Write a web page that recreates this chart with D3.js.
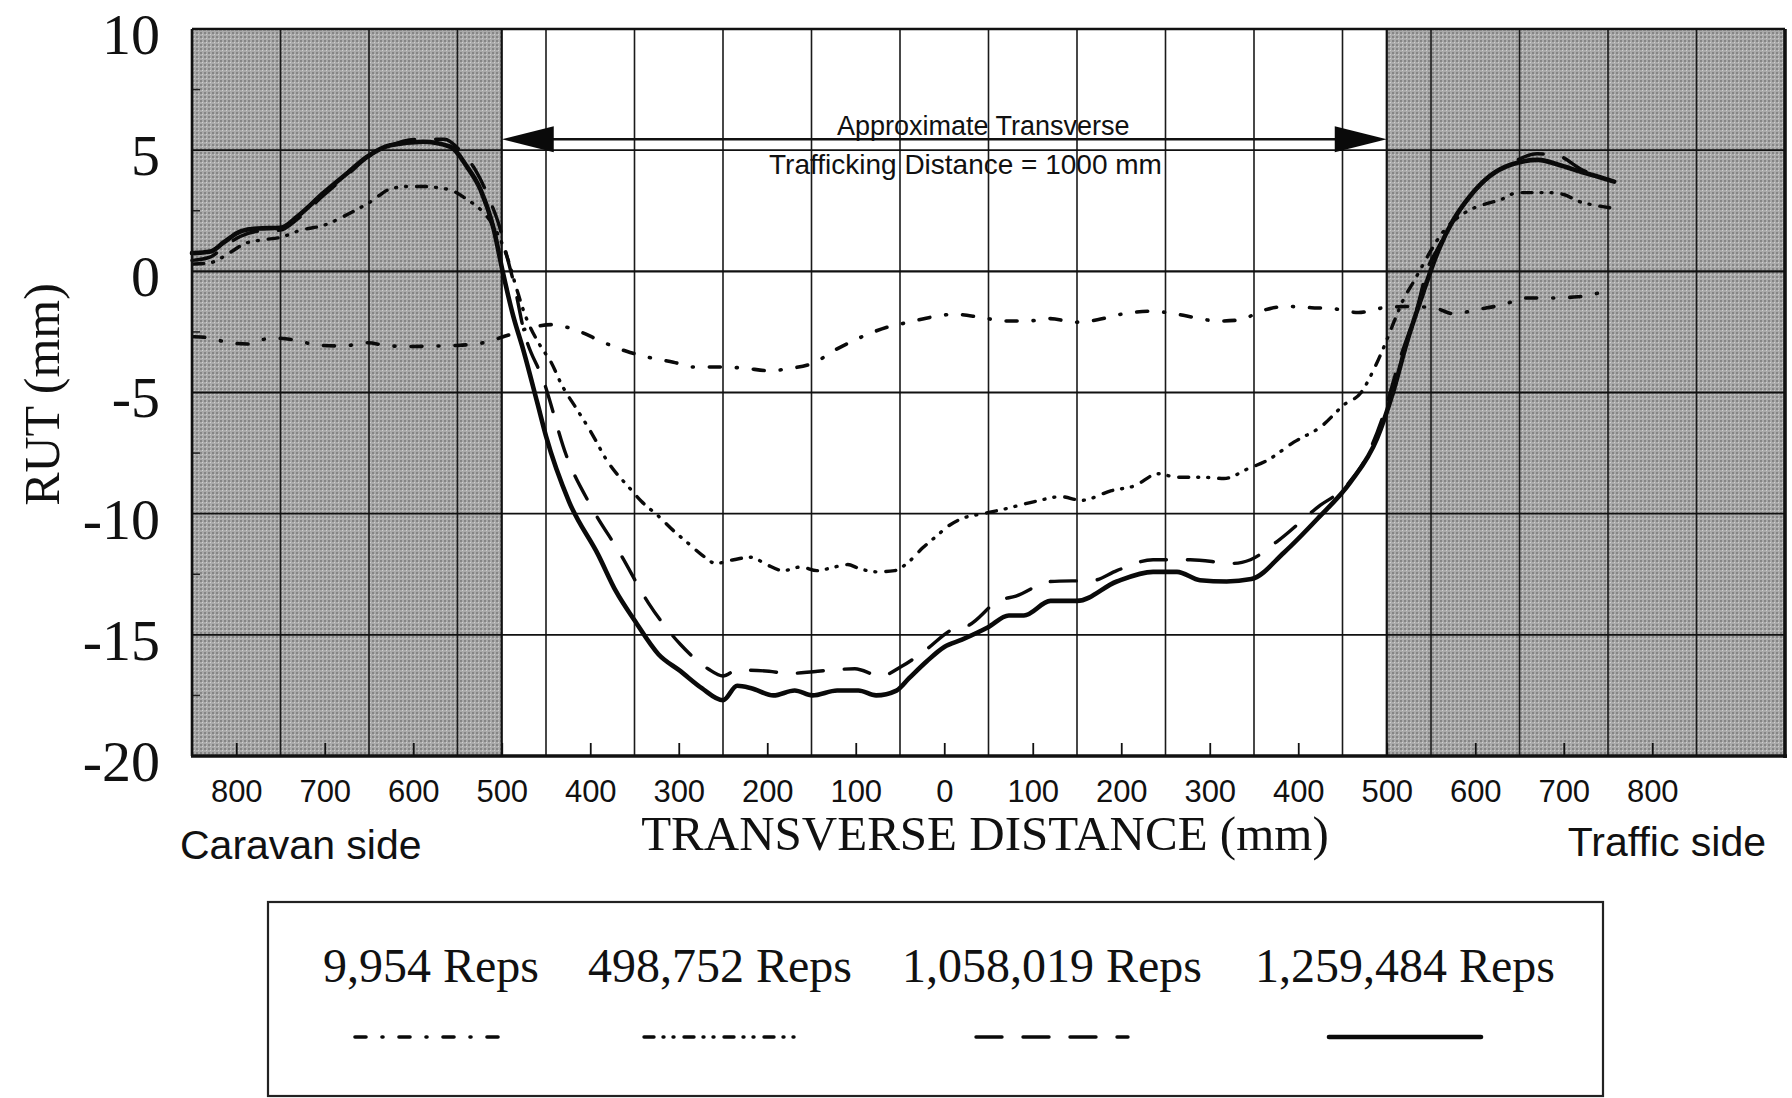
<!DOCTYPE html>
<html>
<head>
<meta charset="utf-8">
<script src="https://cdn.jsdelivr.net/npm/d3@7/dist/d3.min.js"></script>
<style>
  body { margin: 0; background: #fff; }
  svg text { fill: #111; }
</style>
</head>
<body>
<script>
(function() {

    // ---- data (mm across the wheel path, rut depth in mm) ----
    var xDomain = [-850, 950],
        yDomain = [-20, 10];

    var xTicks = [-800, -700, -600, -500, -400, -300, -200, -100, 0, 100, 200, 300, 400, 500, 600, 700, 800];
    var xTickLabels = ["800", "700", "600", "500", "400", "300", "200", "100", "0", "100", "200", "300", "400", "500", "600", "700", "800"];
    var yTicks = [-20, -15, -10, -5, 0, 5, 10];
    var yMinorTicks = [-17.5, -12.5, -7.5, -2.5, 2.5, 7.5];
    var gridX = [-750, -650, -550, -450, -350, -250, -150, -50, 50, 150, 250, 350, 450, 550, 650, 750, 850];
    var shadeBands = [[-850, -500], [500, 950]];
    var trafficBand = [-500, 500];

    var seriesNames = ["9,954 Reps", "498,752 Reps", "1,058,019 Reps", "1,259,484 Reps"];

    var reps9954 = [[-848,-2.7],[-829,-2.75],[-814,-2.9],[-787,-3.0],[-761,-2.75],[-731,-2.85],[-708,-3.05],[-679,-3.08],
        [-652,-2.95],[-626,-3.08],[-603,-3.1],[-573,-3.08],[-547,-3.05],[-521,-2.95],[-494,-2.65],[-470,-2.35],[-444,-2.2],
        [-411,-2.5],[-387,-2.9],[-359,-3.3],[-334,-3.55],[-306,-3.75],[-282,-3.95],[-250,-3.95],[-225,-4.0],[-198,-4.1],
        [-173,-4.0],[-149,-3.8],[-121,-3.2],[-93,-2.7],[-64,-2.3],[-40,-2.1],[-16,-1.9],[12,-1.77],[41,-1.9],[69,-2.05],
        [94,-2.05],[120,-1.95],[147,-2.1],[173,-2.0],[200,-1.77],[230,-1.65],[252,-1.7],[282,-1.9],[309,-2.05],[335,-2.0],
        [357,-1.65],[388,-1.45],[415,-1.5],[441,-1.55],[468,-1.7],[497,-1.5],[523,-1.45],[553,-1.5],[575,-1.75],[606,-1.55],
        [629,-1.4],[659,-1.1],[685,-1.1],[716,-1.05],[739,-0.9]];

    var reps498752 = [[-848,0.3],[-830,0.35],[-806,0.8],[-790,1.15],[-770,1.3],[-750,1.4],[-727,1.7],[-701,1.9],
        [-679,2.26],[-647,2.9],[-626,3.4],[-606,3.5],[-588,3.5],[-572,3.45],[-554,3.3],[-539,2.96],[-524,2.55],[-509,1.85],
        [-494,0.6],[-483,-0.74],[-476,-1.56],[-456,-3.1],[-445,-3.7],[-432,-4.7],[-415,-5.7],[-403,-6.4],[-395,-6.9],
        [-383,-7.7],[-369,-8.4],[-359,-8.8],[-342,-9.5],[-323,-10.1],[-306,-10.7],[-290,-11.2],[-274,-11.7],[-258,-12.05],
        [-238,-11.9],[-218,-11.8],[-201,-12.1],[-182,-12.35],[-162,-12.2],[-144,-12.35],[-129,-12.25],[-109,-12.1],
        [-97,-12.25],[-77,-12.4],[-56,-12.35],[-42,-12.05],[-24,-11.4],[-8,-10.9],[5,-10.5],[20,-10.2],[44,-10.0],[69,-9.8],
        [102,-9.5],[132,-9.3],[155,-9.45],[189,-9.05],[215,-8.85],[242,-8.35],[263,-8.5],[294,-8.5],[316,-8.55],[343,-8.15],
        [365,-7.8],[395,-7.05],[426,-6.4],[452,-5.5],[471,-5.0],[486,-4.0],[497,-3.1],[508,-2.1],[519,-1.15],[530,-0.45],
        [538,0.08],[549,0.8],[560,1.45],[592,2.5],[609,2.75],[629,2.96],[648,3.25],[663,3.25],[682,3.25],[700,3.17],
        [716,2.9],[739,2.7],[756,2.6]];

    var reps1058019 = [[-850,0.45],[-829,0.6],[-814,1.0],[-795,1.45],[-776,1.65],[-750,1.7],[-731,2.15],[-701,3.15],
        [-674,4.0],[-652,4.7],[-626,5.2],[-595,5.45],[-565,5.45],[-545,4.9],[-530,4.2],[-512,2.8],[-503,1.9],[-494,0.6],
        [-485,-0.7],[-476,-2.3],[-452,-4.6],[-427,-7.6],[-399,-9.7],[-367,-11.6],[-334,-13.7],[-298,-15.4],[-267,-16.4],
        [-250,-16.7],[-234,-16.45],[-198,-16.5],[-177,-16.6],[-143,-16.5],[-101,-16.4],[-72,-16.7],[-48,-16.3],[-20,-15.6],
        [8,-14.8],[28,-14.6],[61,-13.6],[81,-13.4],[120,-12.8],[169,-12.75],[195,-12.35],[236,-11.9],[278,-11.9],
        [327,-12.05],[346,-11.9],[376,-11.15],[425,-9.65],[451,-8.97],[478,-7.6],[496,-5.95],[515,-3.6],[534,-1.56],
        [546,0.1],[557,0.9],[575,2.1],[594,3.1],[617,3.95],[640,4.45],[670,4.85],[695,4.75],[720,4.2],[745,3.85]];

    var reps1259484 = [[-850,0.75],[-829,0.82],[-814,1.2],[-795,1.65],[-776,1.77],[-750,1.8],[-731,2.26],[-701,3.25],
        [-674,4.07],[-652,4.73],[-626,5.2],[-589,5.35],[-558,5.14],[-539,4.3],[-524,3.37],[-509,1.73],[-499,0],[-487,-1.85],
        [-476,-3.2],[-460,-5.4],[-450,-6.8],[-424,-9.5],[-391,-11.7],[-371,-13.2],[-350,-14.4],[-323,-15.8],[-298,-16.5],
        [-274,-17.2],[-250,-17.7],[-234,-17.1],[-218,-17.2],[-193,-17.5],[-169,-17.3],[-149,-17.5],[-121,-17.3],[-97,-17.3],
        [-77,-17.5],[-54,-17.3],[-40,-16.8],[-20,-16.1],[0,-15.5],[20,-15.2],[49,-14.7],[73,-14.2],[90,-14.2],[120,-13.6],
        [150,-13.6],[195,-12.8],[236,-12.4],[263,-12.4],[289,-12.75],[319,-12.8],[347,-12.7],[384,-11.6],[422,-10.2],
        [459,-8.7],[489,-6.9],[507,-5.0],[523,-2.9],[541,-0.9],[553,0.36],[560,1.0],[575,2.1],[594,3.1],[617,3.95],
        [640,4.4],[671,4.6],[694,4.4],[720,4.1],[739,3.9],[757,3.7]];

    var seriesData = [reps9954, reps498752, reps1058019, reps1259484];

    // ---- styles (dash lengths allow for the round caps) ----
    var lineStyles = [
        { width: 3.6, dash: "11,16,1,16" },
        { width: 3.4, dash: "10,9,1,9,1,10" },
        { width: 3.4, dash: "26,21" },
        { width: 4.6, dash: null }
    ];

    var width = 1792, height = 1098;
    var plot = { left: 192, right: 1785, top: 29, bottom: 756 };

    var svg = d3.select("body")
        .append("svg")
        .attr("width", width)
        .attr("height", height);

    var defs = svg.append("defs");

    // halftone-ish grey for the untrafficked bands
    var pat = defs.append("pattern")
        .attr("id", "halftone")
        .attr("width", 4)
        .attr("height", 4)
        .attr("patternUnits", "userSpaceOnUse");
    pat.append("rect").attr("width", 4).attr("height", 4).attr("fill", "#aaaaaa");
    pat.append("rect").attr("x", 0).attr("y", 0).attr("width", 2).attr("height", 2).attr("fill", "#858585");
    pat.append("rect").attr("x", 2).attr("y", 2).attr("width", 1).attr("height", 1).attr("fill", "#cfcfcf");

    var x = d3.scaleLinear().domain(xDomain).range([plot.left, plot.right]);
    var y = d3.scaleLinear().domain(yDomain).range([plot.bottom, plot.top]);

    var graph = svg.append("g");

    // shaded bands
    graph.selectAll(".band")
        .data(shadeBands)
        .enter().append("rect")
        .attr("class", "band")
        .attr("x", function(d) { return x(d[0]); })
        .attr("y", plot.top)
        .attr("width", function(d) { return x(d[1]) - x(d[0]); })
        .attr("height", plot.bottom - plot.top)
        .attr("fill", "url(#halftone)");

    // vertical grid
    graph.selectAll(".gx")
        .data(gridX)
        .enter().append("line")
        .attr("class", "gx")
        .attr("x1", function(d) { return x(d); })
        .attr("x2", function(d) { return x(d); })
        .attr("y1", plot.top)
        .attr("y2", plot.bottom)
        .attr("stroke", "#1a1a1a")
        .attr("stroke-width", 1.6);

    // band edges
    graph.selectAll(".edge")
        .data(trafficBand)
        .enter().append("line")
        .attr("x1", function(d) { return x(d); })
        .attr("x2", function(d) { return x(d); })
        .attr("y1", plot.top)
        .attr("y2", plot.bottom)
        .attr("stroke", "#111")
        .attr("stroke-width", 2.2);

    // horizontal grid
    graph.selectAll(".gy")
        .data(yTicks)
        .enter().append("line")
        .attr("class", "gy")
        .attr("x1", plot.left)
        .attr("x2", plot.right)
        .attr("y1", function(d) { return y(d); })
        .attr("y2", function(d) { return y(d); })
        .attr("stroke", "#111")
        .attr("stroke-width", function(d) { return d === 0 ? 2.4 : 1.8; });

    // y axis, labels only (grid already drawn)
    var yAxis = d3.axisLeft(y)
        .tickValues(yTicks)
        .tickSize(0)
        .tickPadding(32)
        .tickFormat(function(d) { return String(d); });

    var gy = svg.append("g")
        .attr("transform", "translate(" + plot.left + ",0)")
        .call(yAxis);
    gy.select(".domain").remove();
    gy.selectAll("text")
        .attr("dy", "0.42em")
        .style("font-family", "'Liberation Serif', 'Times New Roman', serif")
        .style("font-size", "58px")
        .attr("fill", "#111");

    // minor inward ticks on the left edge
    graph.selectAll(".mt")
        .data(yMinorTicks)
        .enter().append("line")
        .attr("x1", plot.left)
        .attr("x2", plot.left + 8)
        .attr("y1", function(d) { return y(d); })
        .attr("y2", function(d) { return y(d); })
        .attr("stroke", "#222")
        .attr("stroke-width", 1.5);

    // x axis: inward ticks, abs labels
    var xAxis = d3.axisBottom(x)
        .tickValues(xTicks)
        .tickSize(-13)
        .tickPadding(24)
        .tickFormat(function(d, i) { return xTickLabels[i]; });

    var gx = svg.append("g")
        .attr("transform", "translate(0," + plot.bottom + ")")
        .call(xAxis);
    gx.select(".domain").remove();
    gx.selectAll(".tick line").attr("stroke", "#111").attr("stroke-width", 1.8);
    gx.selectAll("text")
        .style("font-family", "'Liberation Sans', Arial, sans-serif")
        .style("font-size", "31px")
        .attr("fill", "#111");

    // plot frame
    var frame = svg.append("g").attr("fill", "none").attr("stroke", "#111");
    frame.append("line").attr("x1", plot.left).attr("x2", plot.right).attr("y1", plot.top).attr("y2", plot.top).attr("stroke-width", 2.5);
    frame.append("line").attr("x1", plot.left - 1).attr("x2", plot.right + 2).attr("y1", plot.bottom).attr("y2", plot.bottom).attr("stroke-width", 3.5);
    frame.append("line").attr("x1", plot.left).attr("x2", plot.left).attr("y1", plot.top).attr("y2", plot.bottom).attr("stroke-width", 2.6);
    frame.append("line").attr("x1", plot.right).attr("x2", plot.right).attr("y1", plot.top).attr("y2", plot.bottom + 2).attr("stroke-width", 3.6);

    // rut profiles
    var line = d3.line()
        .curve(d3.curveMonotoneX)
        .x(function(d) { return x(d[0]); })
        .y(function(d) { return y(d[1]); });

    graph.selectAll(".profile")
        .data(seriesData)
        .enter().append("path")
        .attr("class", "profile")
        .attr("d", line)
        .attr("fill", "none")
        .attr("stroke", "#0a0a0a")
        .attr("stroke-linecap", "round")
        .attr("stroke-linejoin", "round")
        .attr("stroke-width", function(d, i) { return lineStyles[i].width; })
        .attr("stroke-dasharray", function(d, i) { return lineStyles[i].dash; });

    // trafficking-width arrow
    var arrowY = y(5.45);
    var ann = svg.append("g");
    ann.append("line")
        .attr("x1", x(trafficBand[0]) + 40)
        .attr("x2", x(trafficBand[1]) - 40)
        .attr("y1", arrowY)
        .attr("y2", arrowY)
        .attr("stroke", "#111")
        .attr("stroke-width", 2.4);
    ann.selectAll(".head")
        .data(trafficBand)
        .enter().append("path")
        .attr("d", function(d) {
            var tip = x(d), dir = d < 0 ? 1 : -1;
            return "M" + tip + "," + arrowY + "L" + (tip + dir * 52) + "," + (arrowY - 13) +
                "L" + (tip + dir * 52) + "," + (arrowY + 13) + "Z";
        })
        .attr("fill", "#0a0a0a");

    ann.append("text")
        .attr("x", x(44))
        .attr("y", y(5.62))
        .attr("text-anchor", "middle")
        .style("font-family", "'Liberation Sans', Arial, sans-serif")
        .style("font-size", "27px")
        .text("Approximate Transverse");
    ann.append("text")
        .attr("x", x(24))
        .attr("y", y(4.0))
        .attr("text-anchor", "middle")
        .style("font-family", "'Liberation Sans', Arial, sans-serif")
        .style("font-size", "28px")
        .text("Trafficking Distance = 1000 mm");

    // axis titles
    svg.append("text")
        .attr("transform", "translate(59," + ((plot.top + plot.bottom) / 2 + 2) + ") rotate(-90)")
        .attr("text-anchor", "middle")
        .style("font-family", "'Liberation Serif', 'Times New Roman', serif")
        .style("font-size", "50px")
        .text("RUT (mm)");

    svg.append("text")
        .attr("x", x(46))
        .attr("y", plot.bottom + 94)
        .attr("text-anchor", "middle")
        .style("font-family", "'Liberation Serif', 'Times New Roman', serif")
        .style("font-size", "49px")
        .text("TRANSVERSE DISTANCE (mm)");

    svg.append("text")
        .attr("x", 180)
        .attr("y", plot.bottom + 103)
        .style("font-family", "'Liberation Sans', Arial, sans-serif")
        .style("font-size", "41px")
        .text("Caravan side");

    svg.append("text")
        .attr("x", 1766)
        .attr("y", plot.bottom + 100)
        .attr("text-anchor", "end")
        .style("font-family", "'Liberation Sans', Arial, sans-serif")
        .style("font-size", "41px")
        .text("Traffic side");

    // legend
    var legendBox = { x: 268, y: 902, w: 1335, h: 194 };
    var legendCenters = [431, 720, 1052, 1405];

    var legend = svg.append("g");
    legend.append("rect")
        .attr("x", legendBox.x)
        .attr("y", legendBox.y)
        .attr("width", legendBox.w)
        .attr("height", legendBox.h)
        .attr("fill", "#fff")
        .attr("stroke", "#222")
        .attr("stroke-width", 2.2);

    var items = legend.selectAll(".item")
        .data(seriesNames)
        .enter().append("g")
        .attr("transform", function(d, i) { return "translate(" + legendCenters[i] + ",0)"; });

    items.append("text")
        .attr("y", legendBox.y + 80)
        .attr("text-anchor", "middle")
        .style("font-family", "'Liberation Serif', 'Times New Roman', serif")
        .style("font-size", "48px")
        .text(function(d) { return d; });

    items.append("line")
        .attr("x1", -76)
        .attr("x2", 76)
        .attr("y1", legendBox.y + 135)
        .attr("y2", legendBox.y + 135)
        .attr("stroke", "#0a0a0a")
        .attr("stroke-linecap", "round")
        .attr("stroke-width", function(d, i) { return lineStyles[i].width; })
        .attr("stroke-dasharray", function(d, i) { return lineStyles[i].dash; });

})();
</script>
</body>
</html>
